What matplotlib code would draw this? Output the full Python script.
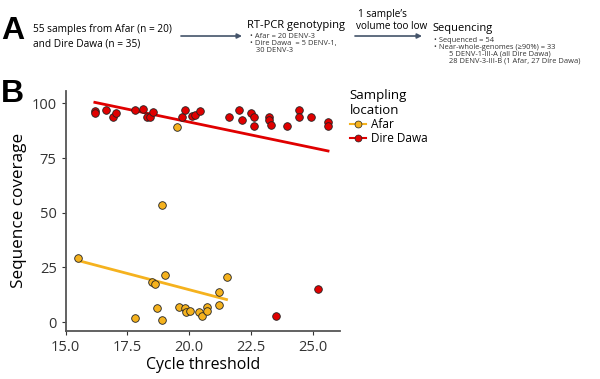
import numpy as np
import matplotlib.pyplot as plt
from matplotlib.patches import FancyArrowPatch

# Panel B data
afar_ct = [15.51, 18.48, 18.61, 19.02, 18.70, 17.80, 18.91, 19.59, 19.82, 19.89,
           20.03, 20.40, 20.52, 20.70, 20.70, 21.51, 21.21, 21.21, 19.50, 18.91]
afar_cov = [29.2, 18.1, 17.3, 21.3, 6.4, 1.8, 1.05, 6.7, 6.4, 4.4,
            5.2, 4.8, 2.6, 7.1, 5.2, 20.4, 13.7, 7.9, 89.3, 53.6]

dd_ct = [16.18, 16.18, 16.62, 16.90, 17.02, 17.80, 18.11, 18.30, 18.41, 18.52,
         19.72, 19.82, 20.12, 20.23, 20.43, 21.62, 22.02, 22.12, 22.52, 22.61,
         22.61, 23.22, 23.22, 23.33, 23.94, 24.43, 24.43, 24.93, 25.62, 25.62,
         23.50, 25.21]
dd_cov = [96.6, 95.4, 96.9, 93.6, 95.7, 96.9, 97.2, 93.6, 93.9, 96.2,
          93.6, 96.9, 94.2, 94.5, 96.6, 93.9, 96.9, 92.4, 95.7, 93.6,
          89.8, 93.6, 92.4, 90.1, 89.8, 96.9, 93.9, 93.6, 91.3, 89.8,
          2.6, 15.1]

groups = ["Afar", "Dire Dawa"]
colors = {"Afar": "#F5B21E", "Dire Dawa": "#E00000"}
xticks = [15.0, 17.5, 20.0, 22.5, 25.0]
yticks = [0, 25, 50, 75, 100]

plt.rcParams['font.family'] = ['Open Sans', 'DejaVu Sans']
fig = plt.figure(figsize=(6, 3.79), dpi=100)

# ---- Panel A: workflow text ----
arrow_col = "#44546A"
bullet_col = "#333333"


def arrow(x0, x1, y):
    fig.add_artist(FancyArrowPatch((x0, y), (x1, y), transform=fig.transFigure,
                                   arrowstyle='-|>', mutation_scale=7,
                                   color=arrow_col, lw=1.2))


fig.text(0.002, 0.918, "A", fontsize=23, fontweight='bold', va='center', ha='left',
         family='Liberation Sans')
fig.text(0.055, 0.923, "55 samples from Afar (n = 20)", fontsize=7.3, va='center')
fig.text(0.055, 0.884, "and Dire Dawa (n = 35)", fontsize=7.3, va='center')
arrow(0.297, 0.408, 0.905)

fig.text(0.412, 0.934, "RT-PCR genotyping", fontsize=8, va='center')
fig.text(0.416, 0.905, "\u2022 Afar = 20 DENV-3", fontsize=5.4, va='center', color=bullet_col)
fig.text(0.416, 0.886, "\u2022 Dire Dawa  = 5 DENV-1,", fontsize=5.4, va='center', color=bullet_col)
fig.text(0.426, 0.866, "30 DENV-3", fontsize=5.4, va='center', color=bullet_col)

fig.text(0.597, 0.963, "1 sample\u2019s", fontsize=7.2, va='center')
fig.text(0.593, 0.929, "volume too low", fontsize=7.2, va='center')
arrow(0.587, 0.708, 0.905)

fig.text(0.72, 0.925, "Sequencing", fontsize=8, va='center')
fig.text(0.724, 0.893, "\u2022 Sequenced = 54", fontsize=5.4, va='center', color=bullet_col)
fig.text(0.724, 0.875, "\u2022 Near-whole-genomes (\u226590%) = 33", fontsize=5.4, va='center', color=bullet_col)
fig.text(0.748, 0.857, "5 DENV-1-III-A (all Dire Dawa)", fontsize=5.4, va='center', color=bullet_col)
fig.text(0.748, 0.838, "28 DENV-3-III-B (1 Afar, 27 Dire Dawa)", fontsize=5.4, va='center', color=bullet_col)

# ---- Panel B: scatter with linear fits ----
fig.text(0.002, 0.752, "B", fontsize=23, fontweight='bold', va='center', ha='left',
         family='Liberation Sans')
ax = fig.add_axes([0.1095, 0.1277, 0.457, 0.632])

data = {"Afar": (afar_ct, afar_cov), "Dire Dawa": (dd_ct, dd_cov)}
handles = []
for g in groups:
    x, y = np.array(data[g][0]), np.array(data[g][1])
    b, a = np.polyfit(x, y, 1)
    xs = np.array([x.min(), x.max()])
    ax.plot(xs, a + b * xs, color=colors[g], lw=2, zorder=2)
    ax.scatter(x, y, s=30, color=colors[g], edgecolor='#222222', linewidth=0.6, zorder=3)
    h, = ax.plot([], [], color=colors[g], lw=1.5, marker='o', markersize=5,
                 markeredgecolor='#222222', markeredgewidth=0.5, label=g)
    handles.append(h)

ax.set_xlim(15.0, 26.1)
ax.set_ylim(-3.9, 105.6)
ax.set_xticks(xticks)
ax.set_xticklabels([f"{t:.1f}" for t in xticks])
ax.set_yticks(yticks)
for s in ["top", "right"]:
    ax.spines[s].set_visible(False)
for s in ["left", "bottom"]:
    ax.spines[s].set_color("#555555")
    ax.spines[s].set_linewidth(1.3)
ax.tick_params(axis='both', labelsize=10.5, colors='#333333', length=3, width=0.8)
ax.set_xlabel("Cycle threshold", fontsize=11.4, labelpad=2)
ax.set_ylabel("Sequence coverage", fontsize=12.3, labelpad=3)

leg = fig.legend(handles=handles, title="Sampling\nlocation", loc='upper left',
                 bbox_to_anchor=(0.583, 0.765), frameon=False, fontsize=8.5,
                 title_fontsize=9.5, handlelength=1.4, handletextpad=0.4,
                 labelspacing=0.1, borderaxespad=0, borderpad=0)
leg._legend_box.align = "left"

fig.savefig("out.png", dpi=100)
